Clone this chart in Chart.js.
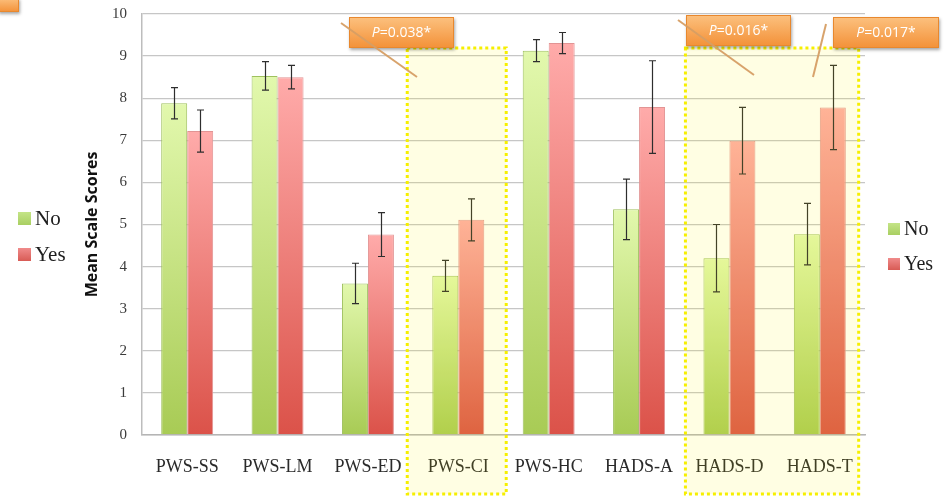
<!DOCTYPE html>
<html>
<head>
<meta charset="utf-8">
<script src="https://cdn.jsdelivr.net/npm/chart.js@4/dist/chart.umd.min.js"></script>
<style>
  html, body { margin: 0; padding: 0; background: #ffffff; }
  #wrap { position: relative; width: 946px; height: 497px; }
</style>
</head>
<body>
<div id="wrap"><canvas id="c" width="946" height="497"></canvas></div>
<script>
// Scale scores by group
const categories = ['PWS-SS', 'PWS-LM', 'PWS-ED', 'PWS-CI', 'PWS-HC', 'HADS-A', 'HADS-D', 'HADS-T'];
const seriesNames = ['No', 'Yes'];
const noMeans = [7.88, 8.53, 3.60, 3.78, 9.13, 5.36, 4.20, 4.77];
const noErrors = [0.37, 0.34, 0.48, 0.37, 0.26, 0.72, 0.80, 0.73];
const yesMeans = [7.22, 8.50, 4.76, 5.11, 9.31, 7.79, 6.99, 7.78];
const yesErrors = [0.50, 0.28, 0.52, 0.50, 0.25, 1.10, 0.79, 1.00];
const yTickValues = [0, 1, 2, 3, 4, 5, 6, 7, 8, 9, 10];
const pValues = ['0.038', '0.016', '0.017'];
const highlightedCategories = [['PWS-CI', 'PWS-CI'], ['HADS-D', 'HADS-T']];

const SERIF = '"Liberation Serif", "DejaVu Serif", serif';
const SANS = '"Open Sans", "Liberation Sans", sans-serif';

// Vertical gradient for each bar, light at the top, saturated at the base
function barGradient(topColor, bottomColor, fallback) {
  return (ctx) => {
    const chart = ctx.chart;
    const area = chart.chartArea;
    if (!area || ctx.type !== 'data' || !chart.scales.y) return fallback;
    const top = chart.scales.y.getPixelForValue(ctx.raw);
    const bottom = chart.scales.y.getPixelForValue(0);
    if (!isFinite(top) || bottom - top < 1) return fallback;
    const g = chart.ctx.createLinearGradient(0, top, 0, bottom);
    g.addColorStop(0, topColor);
    g.addColorStop(1, bottomColor);
    return g;
  };
}

const errorBarsPlugin = {
  id: 'errorBars',
  afterDatasetsDraw(chart) {
    const { ctx } = chart;
    const y = chart.scales.y;
    const errs = [noErrors, yesErrors];
    ctx.save();
    ctx.strokeStyle = '#2e2e2e';
    ctx.lineWidth = 1.2;
    chart.data.datasets.forEach((ds, i) => {
      const meta = chart.getDatasetMeta(i);
      meta.data.forEach((bar, j) => {
        const v = ds.data[j], e = errs[i][j];
        const x = Math.round(bar.x) + 0.5;
        const yHi = y.getPixelForValue(v + e);
        const yLo = y.getPixelForValue(v - e);
        ctx.beginPath();
        ctx.moveTo(x, yHi); ctx.lineTo(x, yLo);
        ctx.moveTo(x - 3.5, yHi); ctx.lineTo(x + 3.5, yHi);
        ctx.moveTo(x - 3.5, yLo); ctx.lineTo(x + 3.5, yLo);
        ctx.stroke();
      });
    });
    ctx.restore();
  }
};

const highlightPlugin = {
  id: 'highlight',
  afterDatasetsDraw(chart, args, opts) {
    const { ctx, chartArea } = chart;
    const x = chart.scales.x;
    const w = x.getPixelForValue(1) - x.getPixelForValue(0);
    ctx.save();
    highlightedCategories.forEach((pair, k) => {
      const pad = opts.pads[k];
      const left = x.getPixelForValue(categories.indexOf(pair[0])) - pad[0] * w;
      const right = x.getPixelForValue(categories.indexOf(pair[1])) + pad[1] * w;
      const top = chartArea.top + opts.topOffset;
      const bottom = chart.height - 3;
      ctx.fillStyle = 'rgba(255, 248, 0, 0.11)';
      ctx.fillRect(left, top, right - left, bottom - top);
      ctx.strokeStyle = '#f6ef00';
      ctx.lineWidth = 3;
      ctx.setLineDash([3, 3]);
      ctx.strokeRect(left, top, right - left, bottom - top);
    });
    ctx.restore();
  }
};

function orangeBox(ctx, x, y, w, h, shadow) {
  ctx.save();
  if (shadow) {
    ctx.shadowColor = 'rgba(0,0,0,0.35)';
    ctx.shadowBlur = 3;
    ctx.shadowOffsetX = 1;
    ctx.shadowOffsetY = 2;
  }
  const g = ctx.createLinearGradient(0, y, 0, y + h);
  g.addColorStop(0, '#fcc17f');
  g.addColorStop(1, '#f39138');
  ctx.fillStyle = g;
  ctx.fillRect(x, y, w, h);
  ctx.restore();
  ctx.save();
  ctx.strokeStyle = '#e8882e';
  ctx.lineWidth = 1;
  ctx.strokeRect(x + 0.5, y + 0.5, w - 1, h - 1);
  ctx.restore();
}

const calloutPlugin = {
  id: 'callouts',
  afterDraw(chart, args, opts) {
    const { ctx } = chart;
    opts.boxes.forEach((b, k) => {
      orangeBox(ctx, b.x, b.y, b.w, b.h, true);
      // leader line
      ctx.save();
      ctx.strokeStyle = 'rgba(214, 158, 100, 0.95)';
      ctx.lineWidth = 2;
      ctx.beginPath();
      ctx.moveTo(b.line[0], b.line[1]);
      ctx.lineTo(b.line[2], b.line[3]);
      ctx.stroke();
      // label: italic P, then the value
      const italic = 'italic 14px ' + SANS;
      const normal = '14px ' + SANS;
      const rest = '=' + pValues[k] + '*';
      ctx.font = italic;
      const wP = ctx.measureText('P').width;
      ctx.font = normal;
      const wR = ctx.measureText(rest).width;
      const tx = b.x + (b.w - wP - wR) / 2;
      const ty = b.y + b.h / 2 + 1;
      ctx.fillStyle = '#ffffff';
      ctx.textBaseline = 'middle';
      ctx.textAlign = 'left';
      ctx.font = italic;
      ctx.fillText('P', tx, ty);
      ctx.font = normal;
      ctx.fillText(rest, tx + wP, ty);
      ctx.restore();
    });
    // small tab in the upper left corner
    orangeBox(ctx, -2, -2, 21, 14, true);
  }
};

const legendPlugin = {
  id: 'sideLegends',
  afterDraw(chart, args, opts) {
    const { ctx } = chart;
    const swatches = [
      ['#c4e487', '#a9cf62'],
      ['#f08b8b', '#d85b55']
    ];
    opts.places.forEach((p) => {
      seriesNames.forEach((name, i) => {
        const sy = p.y + i * p.gap;
        const g = ctx.createLinearGradient(0, sy, 0, sy + p.size);
        g.addColorStop(0, swatches[i][0]);
        g.addColorStop(1, swatches[i][1]);
        ctx.fillStyle = g;
        ctx.fillRect(p.x, sy, p.size, p.size);
        ctx.fillStyle = '#1e1e1e';
        ctx.font = p.font + 'px ' + SERIF;
        ctx.textBaseline = 'middle';
        ctx.textAlign = 'left';
        ctx.fillText(name, p.x + p.size + 4, sy + p.size / 2 + 1);
      });
    });
  }
};

new Chart(document.getElementById('c'), {
  type: 'bar',
  data: {
    labels: categories,
    datasets: [
      {
        label: seriesNames[0],
        data: noMeans,
        backgroundColor: barGradient('#e2f8ad', '#a8cb55', '#c8e58a'),
        borderColor: '#9fc15f',
        borderWidth: 1,
        barPercentage: 1.0,
        categoryPercentage: 0.575
      },
      {
        label: seriesNames[1],
        data: yesMeans,
        backgroundColor: barGradient('#ffabaa', '#db5249', '#ef8a86'),
        borderColor: '#e29494',
        borderWidth: 1,
        barPercentage: 1.0,
        categoryPercentage: 0.575
      }
    ]
  },
  options: {
    responsive: false,
    animation: false,
    layout: { padding: { left: 75, right: 81, top: 14, bottom: 0 } },
    plugins: {
      legend: { display: false },
      tooltip: { enabled: false },
      highlight: { pads: [[0.565, 0.53], [0.487, 0.43]], topOffset: 34 },
      callouts: {
        boxes: [
          { x: 349, y: 17, w: 105, h: 31, line: [341, 23, 417, 77] },
          { x: 686, y: 15, w: 105, h: 31, line: [678, 20, 754, 75] },
          { x: 833, y: 17, w: 106, h: 31, line: [826, 24, 813, 77] }
        ]
      },
      sideLegends: {
        places: [
          { x: 18, y: 212, size: 13, gap: 36, font: 21 },
          { x: 888, y: 223, size: 12, gap: 35, font: 20 }
        ]
      }
    },
    scales: {
      x: {
        grid: { display: false, drawTicks: false },
        border: { display: true, color: '#b5b5b5', width: 1.5 },
        ticks: { color: '#2a2a2a', font: { family: SERIF, size: 18 }, padding: 21, maxRotation: 0, autoSkip: false },
        afterFit: (s) => { s.height = 62; }
      },
      y: {
        min: 0,
        max: 10,
        afterBuildTicks: (s) => { s.ticks = yTickValues.map(v => ({ value: v })); },
        grid: { color: '#c6c6c6', lineWidth: 1.3, drawTicks: false },
        border: { display: true, color: '#bdbdbd', width: 1.5 },
        ticks: { color: '#3a3a3a', font: { family: SERIF, size: 15 }, padding: 15 },
        title: {
          display: true,
          text: 'Mean Scale Scores',
          color: '#111111',
          font: { family: SANS, size: 16, weight: 'bold' },
          padding: { top: 8, bottom: 0 }
        },
        afterFit: (s) => { s.width = 67; s.paddingTop = 0; s.paddingBottom = 0; }
      }
    }
  },
  plugins: [errorBarsPlugin, highlightPlugin, calloutPlugin, legendPlugin]
});
</script>
</body>
</html>
